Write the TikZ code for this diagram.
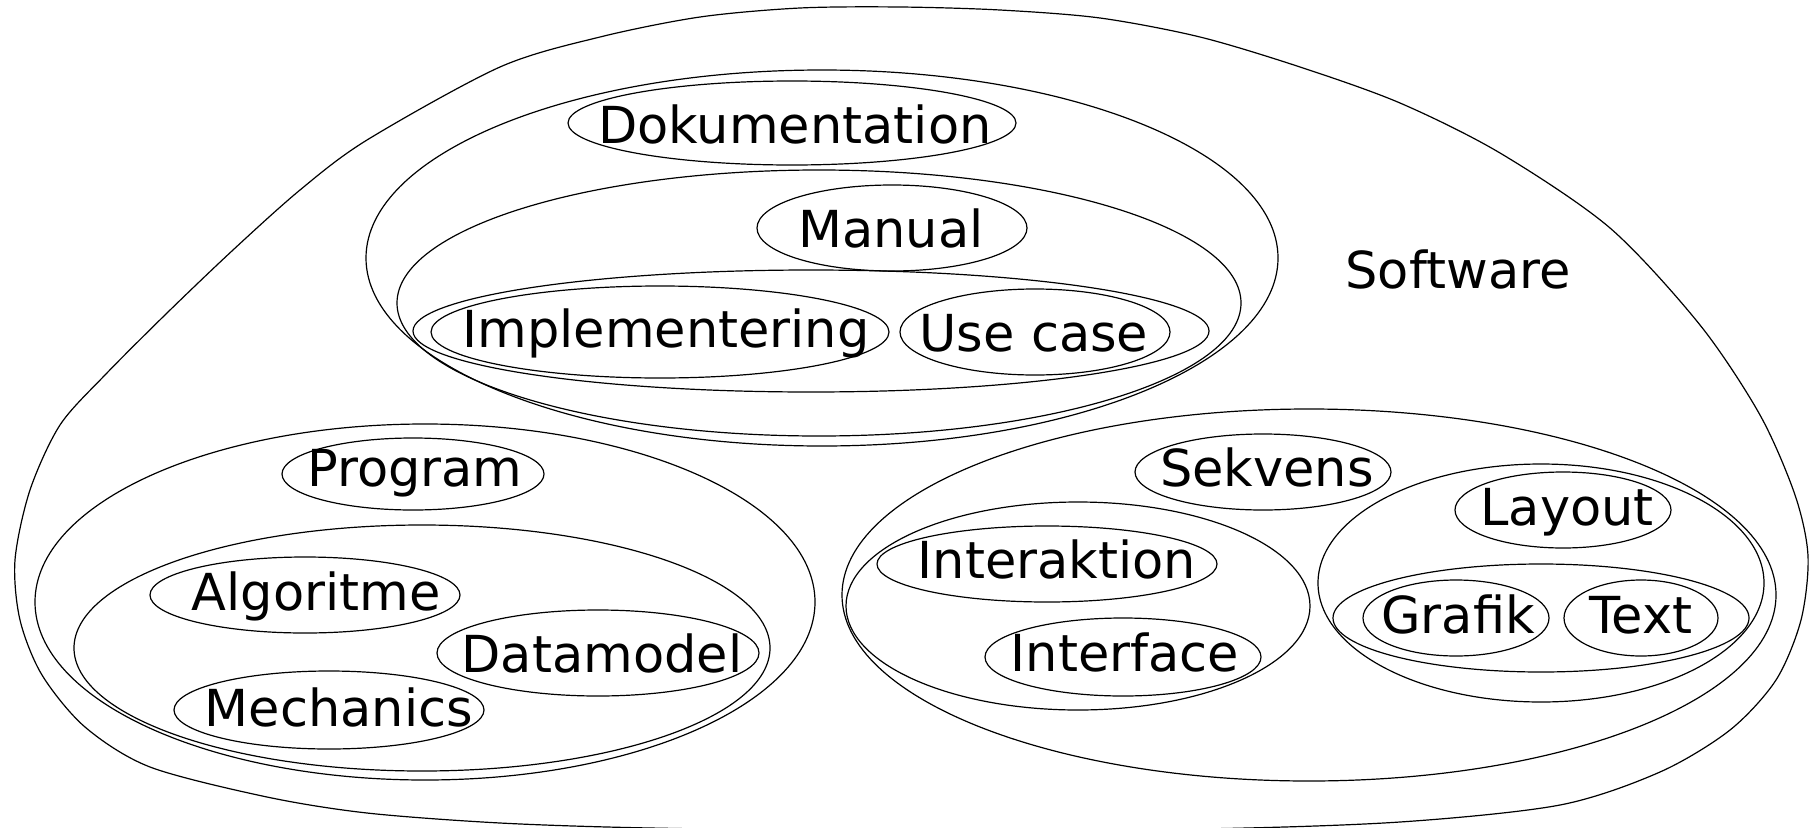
\documentclass[tikz,border=0pt]{standalone}
\usepackage{fontspec}
\setmainfont{DejaVu Sans}
\usetikzlibrary{shapes.geometric}
\begin{document}
\begin{tikzpicture}[x=1pt, y=-1pt, line width=1.2pt,
  oval/.style={draw, ellipse, inner sep=0pt, outer sep=0pt},
  word/.style={anchor=base, inner sep=0pt, font=\fontsize{51}{60}\selectfont}]
\useasboundingbox (0,0) rectangle (1817,827);

% outer "Software" region
\draw plot[smooth cycle, tension=0.5] coordinates {
  (900,7) (1000,10) (1100,18) (1200,37) (1300,67) (1400,103)
  (1500,153) (1610,228) (1700,325) (1760,415) (1795,495) (1808,556)
  (1801,620) (1776,680) (1730,730) (1660,772) (1560,805) (1400,822)
  (1200,829) (900,831) (650,828) (500,823) (367,813) (267,797)
  (150,767) (85,727) (42,675) (20,620) (15,560) (30,490) (60,425)
  (105,375) (167,313) (233,250) (300,190) (367,140)
  (500,67) (600,37) (700,17) (800,8)};
\node[word] (software) at (1458,288) {Software};

% documentation group
\node[oval, minimum width=912, minimum height=376] (docgroup) at (822,258) {};
\node[oval, minimum width=844, minimum height=266] (mangroup) at (819,303) {};
\node[oval, minimum width=796, minimum height=122] (implgroup) at (811,331) {};
\node[oval, minimum width=448, minimum height=84] (dok) at (792,123) {};
\node[oval, minimum width=270, minimum height=86] (manual) at (892,228) {};
\node[oval, minimum width=458, minimum height=92] (impl) at (660,332) {};
\node[oval, minimum width=270, minimum height=86] (usecase) at (1035,332) {};
\node[word] (tdok) at (795,143) {Dokumentation};
\node[word] (tmanual) at (891,247) {Manual};
\node[word] (timpl) at (666,347) {Implementering};
\node[word] (tusecase) at (1034,351) {Use case};

% program group
\node[oval, minimum width=780, minimum height=356] (proggroup) at (425,602) {};
\node[oval, minimum width=696, minimum height=246] (alggroup) at (422,648) {};
\node[oval, minimum width=262, minimum height=72] (program) at (413,474) {};
\node[oval, minimum width=310, minimum height=76] (algoritme) at (305,595) {};
\node[oval, minimum width=322, minimum height=86] (datamodel) at (598,653) {};
\node[oval, minimum width=310, minimum height=78] (mechanics) at (329,710) {};
\node[word] (tprogram) at (415,486) {Program};
\node[word] (talgoritme) at (316,610) {Algoritme};
\node[word] (tdatamodel) at (602,672) {Datamodel};
\node[word] (tmechanics) at (339,726) {Mechanics};

% sequence group
\node[oval, minimum width=934, minimum height=372] (seqgroup) at (1309,595) {};
\node[oval, minimum width=464, minimum height=208] (intgroup) at (1078,606) {};
\node[oval, minimum width=340, minimum height=76] (interaktion) at (1047,564) {};
\node[oval, minimum width=276, minimum height=78] (interface) at (1123,657) {};
\node[oval, minimum width=256, minimum height=76] (sekvens) at (1263,472) {};
\node[oval, minimum width=446, minimum height=238] (laygroup) at (1541,583) {};
\node[oval, minimum width=216, minimum height=76] (layout) at (1563,510) {};
\node[oval, minimum width=416, minimum height=108] (gfxgroup) at (1541,618) {};
\node[oval, minimum width=186, minimum height=76] (grafik) at (1456,618) {};
\node[oval, minimum width=154, minimum height=76] (text) at (1641,618) {};
\node[word] (tsekvens) at (1267,486) {Sekvens};
\node[word] (tlayout) at (1567,525) {Layout};
\node[word] (tinteraktion) at (1057,578) {Interaktion};
\node[word] (tinterface) at (1125,671) {Interface};
\node[word] (tgrafik) at (1458,633) {Grafik};
\node[word] (ttext) at (1641,633) {Text};
\end{tikzpicture}
\end{document}
